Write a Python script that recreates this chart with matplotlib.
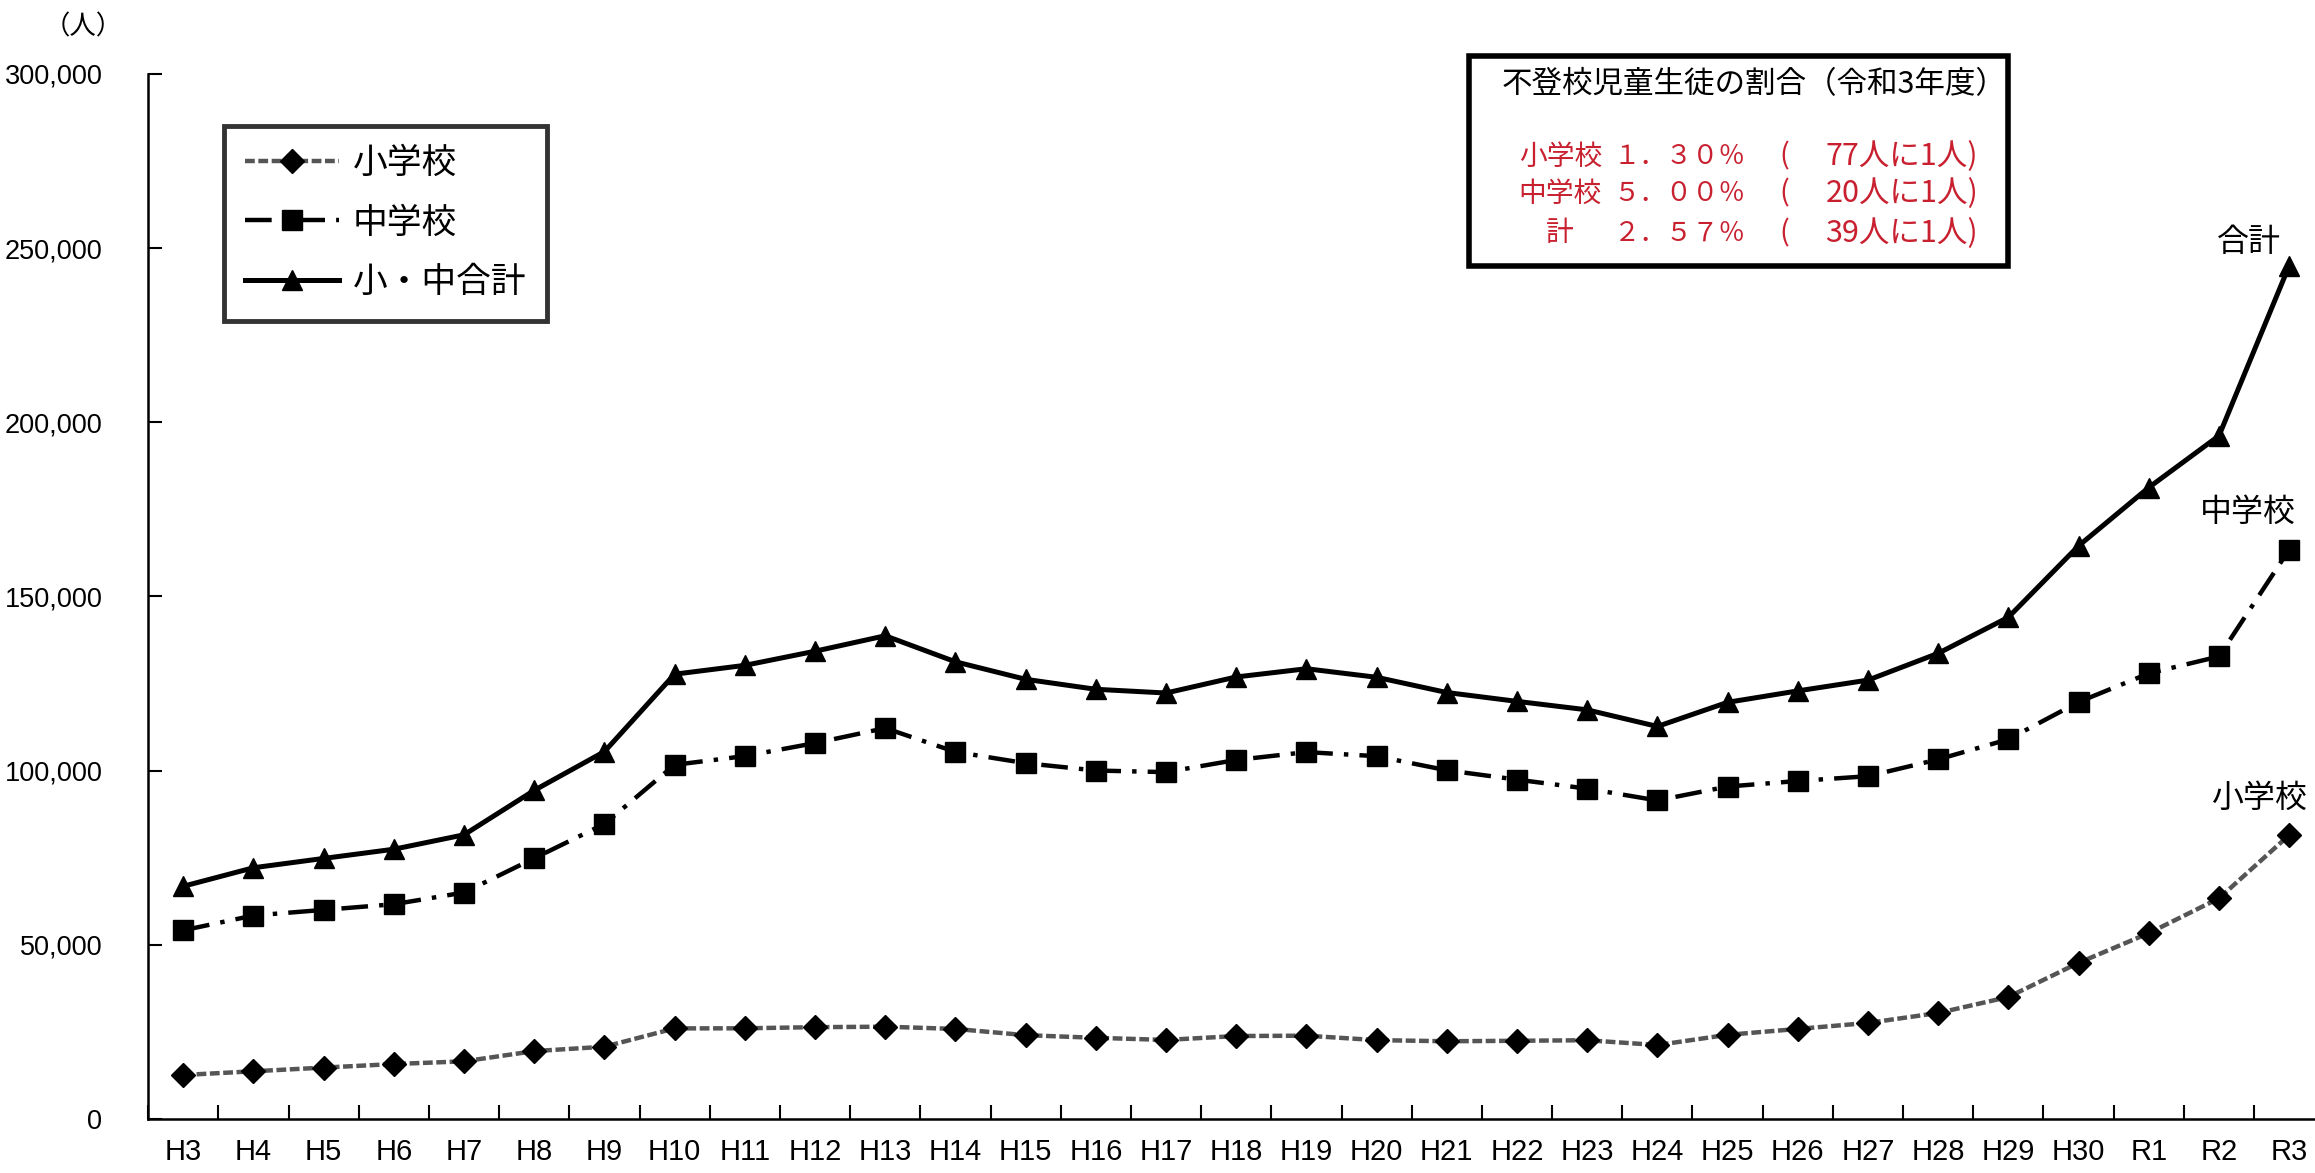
import matplotlib
matplotlib.use("Agg")
import matplotlib.pyplot as plt
import numpy as np
from matplotlib.ticker import FuncFormatter
from matplotlib.patches import Rectangle

plt.rcParams['font.family'] = ['Noto Sans CJK JP', 'DejaVu Sans']
latin = ['Liberation Sans', 'DejaVu Sans']

years = ['H3', 'H4', 'H5', 'H6', 'H7', 'H8', 'H9', 'H10', 'H11', 'H12', 'H13',
         'H14', 'H15', 'H16', 'H17', 'H18', 'H19', 'H20', 'H21', 'H22', 'H23',
         'H24', 'H25', 'H26', 'H27', 'H28', 'H29', 'H30', 'R1', 'R2', 'R3']

# 不登校児童生徒数
elementary = [12645, 13710, 14769, 15786, 16569, 19498, 20765, 26017, 26047,
              26373, 26511, 25869, 24077, 23318, 22709, 23825, 23927, 22652,
              22327, 22463, 22622, 21243, 24175, 25864, 27583, 30448, 35032,
              44841, 53350, 63350, 81498]
junior_high = [54172, 58421, 60039, 61663, 65022, 74853, 84701, 101675, 104180,
               107913, 112211, 105383, 102149, 100040, 99578, 103069, 105328,
               104153, 100105, 97428, 94836, 91446, 95442, 97033, 98408, 103235,
               108999, 119687, 127922, 132777, 163442]
total = [e + j for e, j in zip(elementary, junior_high)]

ratio_rows = [('小学校', '１．３０％', '77人に1人)'),
              ('中学校', '５．００％', '20人に1人)'),
              ('計', '２．５７％', '39人に1人)')]

red = '#c8202f'
fig = plt.figure(figsize=(23.15, 11.73), dpi=100)
ax = fig.add_axes([0.064, 0.046, 0.94, 0.891])

x = np.arange(len(years))
l1, = ax.plot(x, elementary, color='#555555', lw=3.2, linestyle=(0, (2.2, 0.8)),
              marker='D', markersize=12, markerfacecolor='black',
              markeredgecolor='black', label='小学校', zorder=3)
l2, = ax.plot(x, junior_high, color='black', lw=3.2,
              linestyle=(0, (6, 2.5, 1, 2.5)),
              marker='s', markersize=15, label='中学校', zorder=3)
l3, = ax.plot(x, total, color='black', lw=3.6, linestyle='-',
              marker='^', markersize=15, label='小・中合計', zorder=3)

ax.set_xlim(-0.5, len(years) - 0.5)
ax.set_ylim(0, 300000)
ax.set_yticks(np.arange(0, 300001, 50000))
ax.yaxis.set_major_formatter(FuncFormatter(lambda v, p: f'{int(v):,}'))
ax.set_xticks(x)
ax.set_xticklabels(years)
ax.set_xticks(np.arange(-0.5, len(years), 1.0), minor=True)
ax.tick_params(axis='x', which='major', length=0, pad=14)
ax.tick_params(axis='x', which='minor', direction='in', length=10, width=1.5)
ax.tick_params(axis='y', direction='in', length=10, width=1.5, pad=33)
for lab in ax.get_xticklabels():
    lab.set_family(latin)
    lab.set_fontsize(21)
for lab in ax.get_yticklabels():
    lab.set_family(latin)
    lab.set_fontsize(19.5)
    lab.set_horizontalalignment('right')
for s in ['top', 'right']:
    ax.spines[s].set_visible(False)
for s in ['left', 'bottom']:
    ax.spines[s].set_linewidth(1.8)

fig.text(0.036, 0.977, '（人）', fontsize=19, ha='center', va='center')

# series labels at the right end
ax.annotate('合計', (x[-1], total[-1]), xytext=(-29, 17),
            textcoords='offset points', ha='center', va='center', fontsize=23)
ax.annotate('中学校', (x[-1], junior_high[-1]), xytext=(-30, 27),
            textcoords='offset points', ha='center', va='center', fontsize=23)
ax.annotate('小学校', (x[-1], elementary[-1]), xytext=(-22, 27),
            textcoords='offset points', ha='center', va='center', fontsize=23)

leg = fig.legend(handles=[l1, l2, l3], loc='upper left',
                 bbox_to_anchor=(0.0968, 0.893), borderaxespad=0,
                 fontsize=25, frameon=True, fancybox=False,
                 edgecolor='black', handlelength=2.7, labelspacing=0.7,
                 borderpad=0.6, handletextpad=0.4)
leg.get_frame().set_linewidth(3.5)

# 割合の枠
fig.patches.append(Rectangle((0.6346, 0.773), 0.2328, 0.179,
                             transform=fig.transFigure, fill=False,
                             edgecolor='black', linewidth=4))
fig.text(0.6485, 0.928, '不登校児童生徒の割合（令和3年度）', fontsize=22,
         ha='left', va='center')
for (name, pct, per), yy in zip(ratio_rows, [0.8666, 0.835, 0.801]):
    fig.text(0.674, yy, name, color=red, fontsize=20, ha='center', va='center')
    fig.text(0.697, yy, pct, color=red, fontsize=19, ha='left', va='center')
    fig.text(0.7685, yy, '(', color=red, fontsize=21, ha='left', va='center')
    fig.text(0.8545, yy, per, color=red, fontsize=22, ha='right', va='center')

fig.savefig('out.png', dpi=100)
